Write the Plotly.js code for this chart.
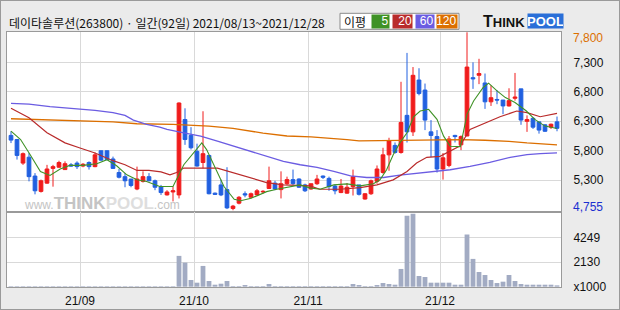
<!DOCTYPE html>
<html>
<head>
<meta charset="utf-8">
<script src="https://cdn.plot.ly/plotly-3.0.1.min.js"></script>
<style>
  html, body { margin: 0; padding: 0; background: #ebebeb; }
  #wrap { width: 618px; height: 308px; border: 1px solid #9a9a9a; }
  #chart { width: 618px; height: 308px; }
</style>
</head>
<body>
<div id="wrap"><div id="chart"></div></div>
<script>
// ---------------- DATA ----------------
const title = '데이타솔루션(263800) · 일간(92일) 2021/08/13~2021/12/28';

const dates = [
  '21/08/13','21/08/17','21/08/18','21/08/19','21/08/20','21/08/23','21/08/24','21/08/25','21/08/26','21/08/27','21/08/30','21/08/31',
  '21/09/01','21/09/02','21/09/03','21/09/06','21/09/07','21/09/08','21/09/09','21/09/10','21/09/13','21/09/14','21/09/15','21/09/16','21/09/17','21/09/23','21/09/24','21/09/27','21/09/28','21/09/29','21/09/30',
  '21/10/01','21/10/05','21/10/06','21/10/07','21/10/08','21/10/12','21/10/13','21/10/14','21/10/15','21/10/18','21/10/19','21/10/20','21/10/21','21/10/22','21/10/25','21/10/26','21/10/27','21/10/28','21/10/29',
  '21/11/01','21/11/02','21/11/03','21/11/04','21/11/05','21/11/08','21/11/09','21/11/10','21/11/11','21/11/12','21/11/15','21/11/16','21/11/17','21/11/18','21/11/19','21/11/22','21/11/23','21/11/24','21/11/25','21/11/26','21/11/29','21/11/30',
  '21/12/01','21/12/02','21/12/03','21/12/06','21/12/07','21/12/08','21/12/09','21/12/10','21/12/13','21/12/14','21/12/15','21/12/16','21/12/17','21/12/20','21/12/21','21/12/22','21/12/23','21/12/24','21/12/27','21/12/28'
];

const open  = [6060,5990,5590,5690,5370,5110,5250,5500,5520,5480,5560,5590,5540,5600,5530,5800,5800,5660,5430,5360,5320,5150,5280,5360,5290,5190,5050,5100,5050,6330,6060,5790,5600,5720,5080,5220,5140,4820,4910,5070,5010,5050,5100,5160,5250,5140,5240,5310,5320,5220,5150,5240,5370,5330,5200,5090,5080,5190,5220,4980,5070,5280,5430,5730,5890,5770,6400,6120,7000,6830,6120,6040,5490,5550,6060,5900,6050,7040,7080,6950,6630,6670,6660,6560,6690,6850,6300,6350,6290,6240,6200,6290];
const high  = [6130,6000,5770,5760,5420,5310,5560,5560,5630,5620,5590,5620,5590,5620,5770,5800,5800,5700,5490,5420,5320,5530,5450,5420,5310,5220,5130,5190,6620,6520,6200,5920,6470,5720,5090,5310,5520,4880,5030,5110,5090,5150,5130,5530,5290,5450,5360,5480,5330,5240,5240,5390,5380,5360,5230,5320,5250,5480,5220,5080,5310,5550,5850,6020,5940,6970,7460,7220,7200,6940,6320,6150,5760,6050,6070,6060,7810,7300,7360,7110,6910,6830,6660,6860,7120,6850,6400,6370,6290,6250,6260,6380];
const low   = [5930,5650,5560,5280,5060,5090,5240,5190,5510,5480,5530,5490,5520,5480,5520,5630,5640,5490,5330,5180,5180,5130,5260,5280,5130,5050,5040,4940,4990,5900,5820,5530,5500,5060,5050,5030,4810,4790,4890,5010,4990,5040,5070,5150,5130,4990,5220,5220,5170,5100,5140,5220,5320,5120,5060,5080,5070,5040,5040,4970,5050,5240,5410,5460,5750,5750,5940,6050,6740,6150,5690,5430,5310,5520,5940,5810,6050,6850,6930,6510,6560,6590,6420,6550,6650,6240,6120,6170,6090,6120,6170,6130];
const close = [5980,5720,5750,5360,5120,5290,5490,5530,5600,5580,5540,5530,5570,5530,5730,5640,5650,5500,5350,5290,5210,5320,5360,5290,5180,5090,5100,5120,6610,5990,5850,5540,5750,5070,5060,5050,4830,4860,5010,5050,5070,5120,5110,5290,5150,5240,5310,5240,5180,5120,5240,5320,5350,5190,5120,5200,5180,5360,5060,5070,5290,5490,5730,5970,5770,6280,6120,7080,6770,6320,6060,5490,5680,6000,6040,6040,7220,7020,7110,6630,6700,6660,6560,6650,6710,6320,6330,6200,6150,6130,6250,6180];

// volume, thousands of shares
const volume = [50,50,50,50,50,50,50,50,50,50,50,50,50,50,50,50,50,50,50,50,50,50,50,50,50,50,50,50,
  2668,2088,580,348,1798,493,174,261,493,58,58,145,58,58,58,232,58,58,58,58,58,58,58,58,58,58,58,58,58,
  232,145,58,58,145,319,232,174,1537,6148,6322,928,841,348,348,348,348,174,174,
  4524,2407,1276,1015,580,319,435,1015,493,232,174,174,174,174,174,116];

// moving averages (index, price)
const ma5X  = [0,1.6,3.2,4.9,6.5,8.2,9.8,12,14.3,16,17.6,19.3,21,22.6,24.8,27,28.8,30.4,31.8,32.6,34.4,35.5,37.2,38.3,40,42.6,44.3,46.5,48.2,49.8,51.5,53.8,56,58.2,60.4,61.5,62.6,63.7,64.8,66,67.1,68.2,69.6,71,72.1,73.2,74.9,76,77.1,78.7,79.6,81,82.4,84,85.9,87.3,89,91];
const ma5Y  = [6132,5990,5733,5448,5380,5488,5551,5551,5579,5648,5545,5391,5306,5277,5192,5192,5562,5762,5933,5819,5420,5192,4975,4952,4992,5106,5146,5192,5220,5170,5146,5220,5237,5203,5240,5306,5477,5733,5933,6104,6377,6474,6503,6332,6047,5876,5870,6417,6645,6873,6947,6816,6702,6617,6474,6332,6218,6178];
const ma20X = [0,3,6,9,11.5,14,17,19,21,23,25,26.5,27.6,28.8,34.4,37.2,40,42.6,45.4,49.8,51.5,54.8,58.2,61,63.7,66,67.6,69.3,71.5,73,74.8,76.5,78.7,81.5,84.3,86,88.2,91];
const ma20Y = [6520,6360,6104,5933,5847,5762,5631,5562,5465,5465,5440,5391,5430,5505,5505,5420,5334,5260,5220,5203,5146,5146,5175,5220,5306,5448,5591,5688,5705,5790,5880,6161,6250,6377,6474,6446,6377,6434];
const ma60X = [0,3,6.5,10,14,17,19,20.4,22.6,24.8,26,28.8,31.6,34.4,37.2,40,42.6,45.4,48.2,51,53.8,56.6,59.3,62.1,64.8,67.6,70.4,73.2,76.5,79.8,83.2,86,88.2,91];
const ma60Y = [6605,6590,6548,6520,6486,6446,6400,6320,6246,6200,6161,6104,6047,5961,5876,5790,5705,5619,5562,5517,5448,5374,5346,5346,5386,5420,5448,5477,5534,5602,5688,5733,5750,5762];
const ma120X = [0,5,13,17,21,27,33,37,42,46,50,53,56,58,62,65,70,75,79,83,86,89,91];
const ma120Y = [6343,6330,6303,6290,6258,6246,6218,6178,6100,6050,6035,6015,5990,5967,5970,5978,5985,5990,5978,5960,5933,5910,5900];

const priceTicks = [5300,5800,6300,6800,7300];
const priceMax = 7800, priceMin = 4755;
const volTicks = [0,2130,4249];
const volTickText = ['x1000','2130','4249'];
const maLegend = ['5','20','60','120'];

// ---------------- LAYOUT / STYLE ----------------
const W = 618, H = 308;
const M = {l: 6, r: 58, t: 31, b: 22};
const PW = W - M.l - M.r, PH = H - M.t - M.b;
const px = x => (x - 1 - M.l) / PW;      // page pixel -> paper fraction
const py = y => 1 - (y - 1 - M.t) / PH;
const split = 1 - 180.3 / PH;

const idx = dates.map((d, i) => i);
const monthTicks = [], monthText = [];
dates.forEach((d, i) => {
  if (i > 0 && d.slice(3, 5) !== dates[i - 1].slice(3, 5)) {
    monthTicks.push(i - 0.5);
    monthText.push(d.slice(0, 5));
  }
});

const UP = '#f01c1c', DOWN = '#2160e0';
const C5 = '#3f9226', C20 = '#b92b2b', C60 = '#6b5ce2', C120 = '#dc6f00';
const GRID = '#d9d9d9', BORDER = '#9a9a9a';
const numFmt = v => v.toLocaleString('en-US');

const traces = [
  {type: 'candlestick', x: idx, open: open, high: high, low: low, close: close,
   xaxis: 'x', yaxis: 'y', whiskerwidth: 0,
   increasing: {line: {color: UP, width: 1}, fillcolor: UP},
   decreasing: {line: {color: DOWN, width: 1}, fillcolor: DOWN},
   hoverinfo: 'skip', showlegend: false},
  {type: 'scatter', mode: 'lines', x: ma120X, y: ma120Y, line: {color: C120, width: 1.3}, xaxis: 'x', yaxis: 'y', hoverinfo: 'skip', showlegend: false},
  {type: 'scatter', mode: 'lines', x: ma60X, y: ma60Y, line: {color: C60, width: 1.3}, xaxis: 'x', yaxis: 'y', hoverinfo: 'skip', showlegend: false},
  {type: 'scatter', mode: 'lines', x: ma20X, y: ma20Y, line: {color: C20, width: 1.2}, xaxis: 'x', yaxis: 'y', hoverinfo: 'skip', showlegend: false},
  {type: 'scatter', mode: 'lines', x: ma5X, y: ma5Y, line: {color: C5, width: 1.1}, xaxis: 'x', yaxis: 'y', hoverinfo: 'skip', showlegend: false},
  {type: 'bar', x: idx, y: volume, width: 0.8, marker: {color: '#a2abc3', line: {width: 0}},
   xaxis: 'x2', yaxis: 'y2', hoverinfo: 'skip', showlegend: false}
];

const xr = [-(4 / 6), -(4 / 6) + PW / 6];
const baseX = {
  range: xr, tickmode: 'array', tickvals: monthTicks, ticktext: monthText,
  showgrid: true, gridcolor: GRID, gridwidth: 1, zeroline: false,
  showline: true, mirror: true, linecolor: BORDER, linewidth: 1,
  ticks: '', fixedrange: true
};

const annotations = [
  {text: title, xref: 'paper', yref: 'paper', x: px(7), y: py(22.5), xanchor: 'left', yanchor: 'middle',
   showarrow: false, font: {family: 'Noto Sans CJK KR, sans-serif', size: 12, color: '#111'}},
  {text: '이평', xref: 'paper', yref: 'paper', x: px(355), y: py(21.5), xanchor: 'center', yanchor: 'middle',
   showarrow: false, font: {family: 'Noto Sans CJK KR, sans-serif', size: 12, color: '#111'}},
  {text: numFmt(priceMax), xref: 'paper', yref: 'paper', x: px(571), y: py(38.3), xanchor: 'left', yanchor: 'middle',
   showarrow: false, font: {family: 'Liberation Sans, sans-serif', size: 12, color: '#dc6f00'}},
  {text: numFmt(priceMin), xref: 'paper', yref: 'paper', x: px(571), y: py(206.7), xanchor: 'left', yanchor: 'middle',
   showarrow: false, font: {family: 'Liberation Sans, sans-serif', size: 12, color: '#1b2fd0'}},
  {text: '<b>T</b><b style="font-size:13px">HINK</b>', xref: 'paper', yref: 'paper', x: px(481), y: py(22), xanchor: 'left', yanchor: 'middle',
   showarrow: false, font: {family: 'Liberation Sans, sans-serif', size: 16, color: '#111'}},
  {text: '<b>POOL</b>', xref: 'paper', yref: 'paper', x: px(545), y: py(21.5), xanchor: 'center', yanchor: 'middle',
   width: 35, height: 14, borderpad: 0, bgcolor: '#2a6fd8',
   showarrow: false, font: {family: 'Liberation Sans, sans-serif', size: 13, color: '#ffffff'}},
  {text: 'www.<b style="font-size:17px">THINK</b><b style="font-size:17px;color:#dedede">POOL</b>.com',
   xref: 'paper', yref: 'paper', x: px(22), y: py(203), xanchor: 'left', yanchor: 'middle',
   showarrow: false, font: {family: 'Liberation Sans, sans-serif', size: 12, color: '#c4c4c4'}}
];

// MA legend boxes
const legBoxes = [[370.5, 19.5, C5], [391.5, 22, C20], [414.5, 20.5, C60], [436, 22.5, C120]];
maLegend.forEach((t, k) => {
  const [x0, w, c] = legBoxes[k];
  annotations.push({text: t, xref: 'paper', yref: 'paper', x: px(x0 + w / 2), y: py(21.4),
    xanchor: 'center', yanchor: 'middle', width: w - 3, height: 12.7, align: 'right', borderpad: 0,
    bgcolor: c, showarrow: false, font: {family: 'Liberation Sans, sans-serif', size: 12, color: '#ffffff'}});
});

const shapes = [
  {type: 'rect', xref: 'paper', yref: 'paper', x0: px(340), x1: px(459), y0: py(29.3), y1: py(13.3),
   line: {color: '#8a8a8a', width: 1}, fillcolor: '#ffffff', layer: 'below'}
];

const layout = {
  width: W, height: H, margin: M,
  paper_bgcolor: '#ebebeb', plot_bgcolor: '#ffffff',
  showlegend: false, boxgap: 0.12, boxgroupgap: 0.3,
  xaxis: Object.assign({}, baseX, {anchor: 'y', domain: [0, 1], showticklabels: false, rangeslider: {visible: false}}),
  xaxis2: Object.assign({}, baseX, {anchor: 'y2', domain: [0, 1], showticklabels: true,
    tickfont: {family: 'Liberation Sans, sans-serif', size: 12, color: '#111'}, ticklabelstandoff: 3}),
  yaxis: {domain: [split, 1], range: [priceMin, 7815], side: 'right', anchor: 'x',
    tickmode: 'array', tickvals: priceTicks, ticktext: priceTicks.map(numFmt),
    showgrid: true, gridcolor: GRID, zeroline: false, showline: true, mirror: true, linecolor: BORDER,
    ticks: '', ticklabelstandoff: 9, tickfont: {family: 'Liberation Sans, sans-serif', size: 12, color: '#111'}, fixedrange: true},
  yaxis2: {domain: [0, split], range: [-25, 6440], side: 'right', anchor: 'x2',
    tickmode: 'array', tickvals: volTicks, ticktext: volTickText,
    showgrid: true, gridcolor: GRID, zeroline: false, showline: true, mirror: true, linecolor: BORDER,
    ticks: '', ticklabelstandoff: 9, tickfont: {family: 'Liberation Sans, sans-serif', size: 12, color: '#111'}, fixedrange: true},
  annotations: annotations,
  shapes: shapes
};

Plotly.newPlot('chart', traces, layout, {displayModeBar: false, staticPlot: true});
</script>
</body>
</html>
